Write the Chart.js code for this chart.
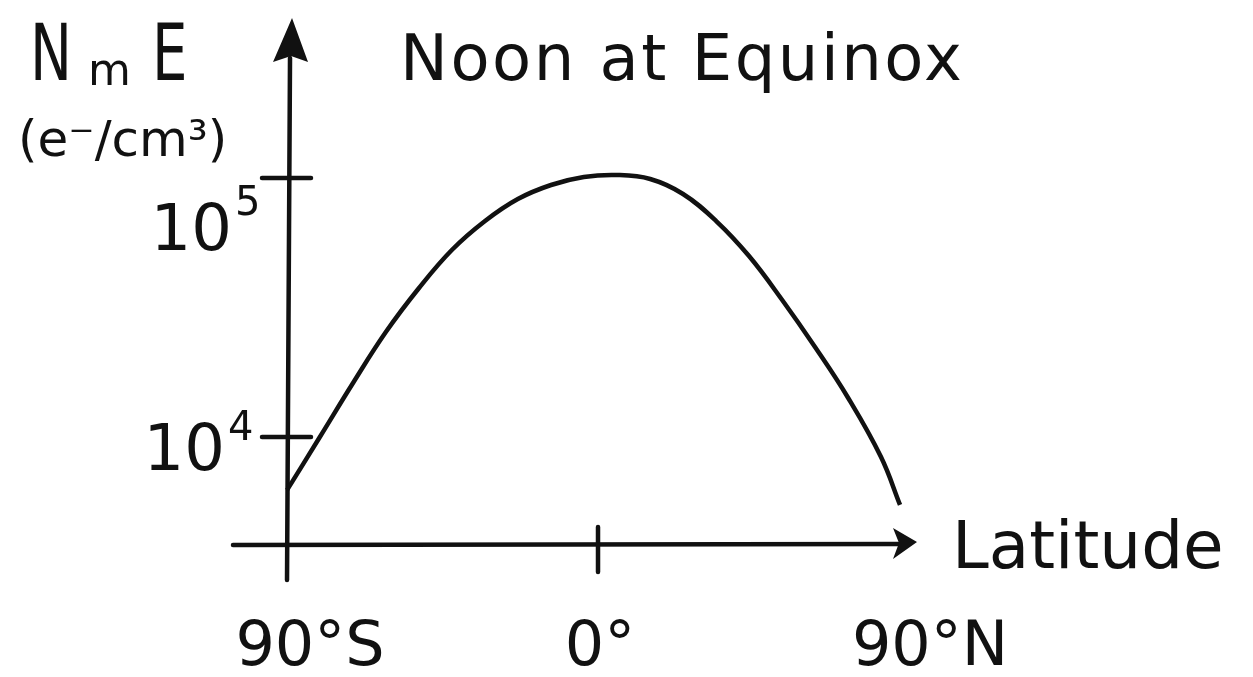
<!DOCTYPE html>
<html>
<head>
<meta charset="utf-8">
<script src="https://cdn.jsdelivr.net/npm/chart.js@4/dist/chart.umd.min.js"></script>
<style>
  html, body { margin: 0; padding: 0; background: #fff; }
  canvas { display: block; }
</style>
</head>
<body>
<canvas id="c" width="1253" height="677"></canvas>
<script>
// Peak E-layer electron density at local noon, equinox, versus latitude
const latitudes = [-90, -80.5, -70.9, -61.4, -51.8, -42.3, -32.7, -23.2, -13.6, -4.1,
                   5.5, 15.1, 24.6, 34.2, 43.7, 53.3, 62.8, 72.4, 81.9, 87.4];
const densities = [6240, 10000, 16170, 25430, 37610, 52720, 68230, 82950, 93970, 100900,
                   102700, 99110, 86750, 68230, 49980, 33810, 22260, 14150, 8370, 5470];

const xTickValues = [-90, 0, 90];
const xTickLabels = ['90°S', '0°', '90°N'];
const yTickValues = [1e4, 1e5];

const chartTitle = 'Noon at Equinox';
const xAxisTitle = 'Latitude';
const yAxisSymbol = ['N', 'm', 'E'];
const yAxisUnit = '(e⁻/cm³)';

const INK = '#111';
const FONT = '"DejaVu Sans", sans-serif';
const STROKE = 4.5;

// Hand-placed nudges for the lettering around the axes
const xLabelCenterShift = { '-90': 23, '0': 2, '90': 21 };
const yLabelPlacement = { 1e4: { dx: -62, dy: 33, supDy: -30 }, 1e5: { dx: -55, dy: 72, supDy: -35 } };

const sketchAxes = {
  id: 'sketchAxes',
  beforeDatasetsDraw(chart) {
    const { ctx, chartArea: a, scales: { x, y } } = chart;
    const x0 = x.getPixelForValue(xTickValues[0]);
    const y0 = a.bottom;
    ctx.save();
    ctx.strokeStyle = INK;
    ctx.fillStyle = INK;
    ctx.lineWidth = STROKE;
    ctx.lineCap = 'round';

    // vertical axis + arrowhead
    ctx.beginPath();
    ctx.moveTo(x0, y0 + 35);
    ctx.lineTo(x0 + 3, a.top + 40);
    ctx.stroke();
    ctx.beginPath();
    ctx.moveTo(x0 + 5, a.top);
    ctx.lineTo(x0 + 21, a.top + 44);
    ctx.lineTo(x0 + 4, a.top + 38);
    ctx.lineTo(x0 - 14, a.top + 44);
    ctx.closePath();
    ctx.fill();

    // horizontal axis + arrowhead
    ctx.beginPath();
    ctx.moveTo(a.left, y0);
    ctx.lineTo(a.right - 20, y0 - 1);
    ctx.stroke();
    ctx.beginPath();
    ctx.moveTo(a.right - 3, y0 - 3);
    ctx.lineTo(a.right - 27, y0 - 17);
    ctx.lineTo(a.right - 21, y0 - 2);
    ctx.lineTo(a.right - 27, y0 + 14);
    ctx.closePath();
    ctx.fill();

    // value ticks on the vertical axis
    yTickValues.forEach(v => {
      const py = y.getPixelForValue(v);
      ctx.beginPath();
      ctx.moveTo(x0 - 25, py);
      ctx.lineTo(x0 + 24, py);
      ctx.stroke();
    });

    // inner latitude ticks (ends are covered by the axis itself)
    xTickValues.slice(1, -1).forEach(v => {
      const px = x.getPixelForValue(v);
      ctx.beginPath();
      ctx.moveTo(px, y0 - 18);
      ctx.lineTo(px, y0 + 27);
      ctx.stroke();
    });
    ctx.restore();
  },
  afterDraw(chart) {
    const { ctx, chartArea: a, scales: { x, y } } = chart;
    const x0 = x.getPixelForValue(xTickValues[0]);
    ctx.save();
    ctx.fillStyle = INK;
    ctx.textBaseline = 'alphabetic';

    // latitude labels
    ctx.font = '62px ' + FONT;
    ctx.textAlign = 'center';
    xTickValues.forEach((v, i) => {
      ctx.fillText(xTickLabels[i], x.getPixelForValue(v) + xLabelCenterShift[String(v)], 665);
    });

    // power-of-ten labels
    yTickValues.forEach(v => {
      const p = yLabelPlacement[v];
      const py = y.getPixelForValue(v);
      ctx.font = '64px ' + FONT;
      ctx.textAlign = 'right';
      ctx.fillText('10', x0 + p.dx, py + p.dy);
      ctx.font = '40px ' + FONT;
      ctx.textAlign = 'left';
      ctx.fillText(String(Math.round(Math.log10(v))), x0 + p.dx + 3, py + p.dy + p.supDy);
    });

    // axis titles
    ctx.textAlign = 'left';
    ctx.font = '66px ' + FONT;
    ctx.fillText(xAxisTitle, a.right + 32, a.bottom + 23);

    ctx.save();
    ctx.font = '78px ' + FONT;
    ctx.translate(30, 80);
    ctx.scale(0.72, 1);
    ctx.fillText(yAxisSymbol[0], 0, 0);
    ctx.restore();
    ctx.font = '44px ' + FONT;
    ctx.fillText(yAxisSymbol[1], 88, 85);
    ctx.save();
    ctx.font = '78px ' + FONT;
    ctx.translate(152, 80);
    ctx.scale(0.72, 1);
    ctx.fillText(yAxisSymbol[2], 0, 0);
    ctx.restore();

    ctx.font = '50px ' + FONT;
    ctx.fillText(yAxisUnit, 18, 156);

    // chart title
    ctx.font = '64px ' + FONT;
    ctx.letterSpacing = '2.5px';
    ctx.fillText(chartTitle, 400, 80);
    ctx.restore();
  }
};

new Chart(document.getElementById('c').getContext('2d'), {
  type: 'line',
  data: {
    datasets: [{
      data: latitudes.map((lat, i) => ({ x: lat, y: densities[i] })),
      borderColor: INK,
      borderWidth: STROKE,
      pointRadius: 0,
      fill: false,
      tension: 0.4
    }]
  },
  options: {
    responsive: false,
    devicePixelRatio: 1,
    animation: false,
    layout: { padding: { left: 233, right: 333, top: 18, bottom: 132 } },
    plugins: { legend: { display: false }, title: { display: false }, tooltip: { enabled: false } },
    scales: {
      x: { type: 'linear', min: -105.63, max: 93.18, bounds: 'data', display: false },
      y: { type: 'logarithmic', min: 3830, max: 414700, bounds: 'data', display: false }
    }
  },
  plugins: [sketchAxes]
});
</script>
</body>
</html>
